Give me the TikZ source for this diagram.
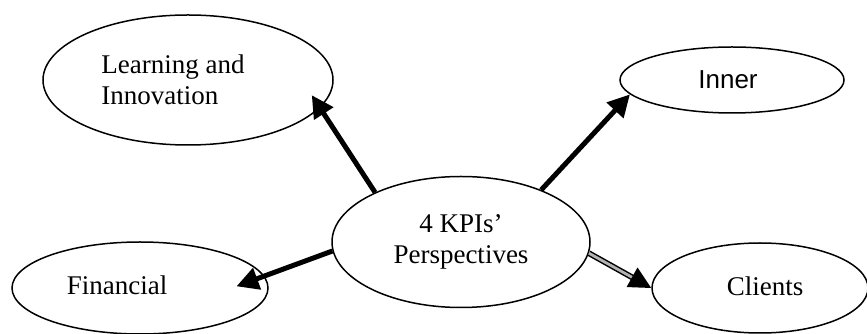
\documentclass[tikz,border=0pt]{standalone}
\usepackage{fontspec}
\setmainfont{Liberation Serif}
\newfontfamily\arialfont{Liberation Sans}
\usetikzlibrary{arrows.meta,calc,shapes.geometric}
\tikzset{
  ell/.style={draw=black, line width=1.5pt, ellipse, inner sep=0pt, fill=white,
    font=\fontsize{27}{31}\selectfont},
  arr/.style={line width=5pt, -{Triangle[length=22pt,width=22pt]}},
  darr/.style={line width=1.5pt, double=gray!60, double distance=2.8pt,
    -{Triangle[length=22pt,width=22pt,fill=black]}}
}
\begin{document}
\begin{tikzpicture}[x=1pt,y=1pt]
\useasboundingbox (0,0) rectangle (867,334);
\node[ell, minimum width=290pt, minimum height=130pt, align=left] (learn) at (188,254) {Learning and\hspace*{30pt}\\Innovation};
\node[ell, minimum width=224pt, minimum height=66pt, font=\arialfont\fontsize{26}{31}\selectfont] (inner) at (732,254) {\raisebox{-2pt}{Inner}\hspace*{8pt}};
\node[ell, minimum width=258pt, minimum height=131pt, align=center] (kpi) at (461,92) {4 KPIs’\\Perspectives};
\node[ell, minimum width=256pt, minimum height=92pt] (fin) at (140,46) {\raisebox{5pt}{Financial}\hspace*{46pt}};
\node[ell, minimum width=216pt, minimum height=90pt] (cli) at (760,46) {\hspace*{10pt}\raisebox{3pt}{Clients}};
\draw[arr] (kpi.150.8) -- ($(learn.center)!0.88!(learn.-7.9)$);
\draw[arr] (kpi.33.4) -- (inner.188.6);
\draw[arr] (kpi.184.5) -- ($(fin.center)!0.75!(fin.1.2)$);
\draw[darr] (kpi.-5) -- (cli.180);
\end{tikzpicture}
\end{document}
